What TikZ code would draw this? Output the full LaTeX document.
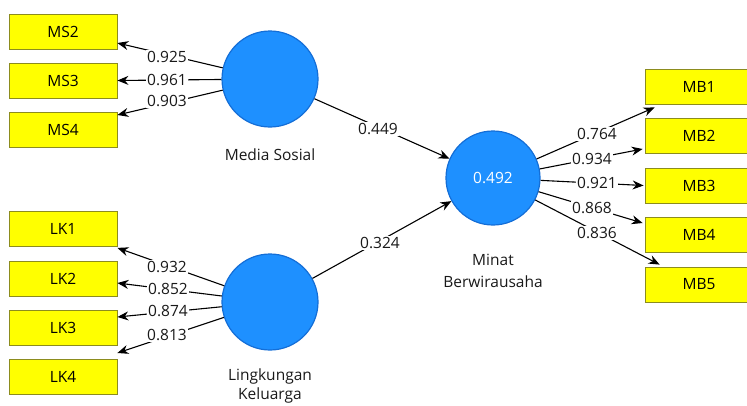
\documentclass[tikz,border=0pt]{standalone}
\usepackage{fontspec}
\setmainfont{Open Sans}
\usetikzlibrary{arrows.meta}
\definecolor{boxfill}{RGB}{255,255,0}
\definecolor{boxline}{RGB}{140,140,30}
\definecolor{lvfill}{RGB}{30,144,255}
\definecolor{lvline}{RGB}{20,110,215}
\begin{document}
\begin{tikzpicture}[x=1pt,y=-1pt,
  every node/.style={font=\fontsize{15.5}{18}\selectfont},
  ind/.style={draw=boxline,fill=boxfill,line width=0.8pt,minimum width=108pt,minimum height=35pt,inner sep=0pt},
  lv/.style={circle,draw=lvline,fill=lvfill,line width=1.2pt,minimum size=#1,inner sep=0pt},
  arr/.style={-{Stealth[length=11pt,width=9pt]},line width=1.1pt,black},
  lbl/.style={fill=white,inner sep=1pt,text=black!90},
  lvcap/.style={text=black!90,align=center}]
\useasboundingbox (0,0) rectangle (747,405);
% indicator boxes
\node[ind] (MS2) at (63,31.5) {MS2};
\node[ind] (MS3) at (63,80.5) {MS3};
\node[ind] (MS4) at (63,130) {MS4};
\node[ind] (LK1) at (63,229) {LK1};
\node[ind] (LK2) at (63,278.5) {LK2};
\node[ind] (LK3) at (63,328) {LK3};
\node[ind] (LK4) at (63,376.5) {LK4};
\node[ind] (MB1) at (699,86.5) {MB1};
\node[ind] (MB2) at (699,136) {MB2};
\node[ind] (MB3) at (699,185.5) {MB3};
\node[ind] (MB4) at (699,234.5) {MB4};
\node[ind] (MB5) at (699,284.5) {MB5};
% latent variables
\node[lv=96pt] (ms) at (270,79) {};
\node[lv=96pt] (lk) at (270,302) {};
\node[lv=94pt,text=white] (mb) at (493,178) {0.492};
\node[lvcap] (msl) at (270,155) {Media Sosial};
\node[lvcap] (lkl) at (270,376) {Lingkungan};
\node[lvcap] (lkl2) at (270,395) {Keluarga};
\node[lvcap] (mbl) at (493,260) {Minat};
\node[lvcap] (mbl2) at (493,282) {Berwirausaha};
% outer loadings
\draw[arr] (ms) -- ([yshift=-11.5pt]MS2.east);
\draw[arr] (ms) -- (MS3.east);
\draw[arr] (ms) -- ([yshift=15pt]MS4.east);
\draw[arr] (lk) -- ([yshift=-1pt]LK1.south east);
\draw[arr] (lk) -- ([yshift=-4.5pt]LK2.east);
\draw[arr] (lk) -- ([yshift=11pt]LK3.east);
\draw[arr] (lk) -- ([yshift=23.5pt]LK4.east);
\draw[arr] (mb) -- ([xshift=10pt,yshift=-3pt]MB1.south west);
\draw[arr] (mb) -- ([xshift=-2pt,yshift=-13pt]MB2.west);
\draw[arr] (mb) -- ([xshift=-1pt]MB3.west);
\draw[arr] (mb) -- ([xshift=-2pt,yshift=11.5pt]MB4.west);
\draw[arr] (mb) -- ([xshift=15pt,yshift=2pt]MB5.north west);
% paths
\draw[arr] (ms) -- (mb);
\draw[arr] (lk) -- (mb);
% labels
\node[lbl] (a1) at (167,57) {0.925};
\node[lbl] (a2) at (167,80) {0.961};
\node[lbl] (a3) at (167,101) {0.903};
\node[lbl] (b1) at (167,267) {0.932};
\node[lbl] (b2) at (168,289) {0.852};
\node[lbl] (b3) at (168,311) {0.874};
\node[lbl] (b4) at (167,335) {0.813};
\node[lbl] (c1) at (597,134) {0.764};
\node[lbl] (c2) at (592,159) {0.934};
\node[lbl] (c3) at (597,183) {0.921};
\node[lbl] (c4) at (592,208) {0.868};
\node[lbl] (c5) at (597,233) {0.836};
\node[lbl] (p1) at (378,129) {0.449};
\node[lbl] (p2) at (380,243) {0.324};
\end{tikzpicture}
\end{document}
